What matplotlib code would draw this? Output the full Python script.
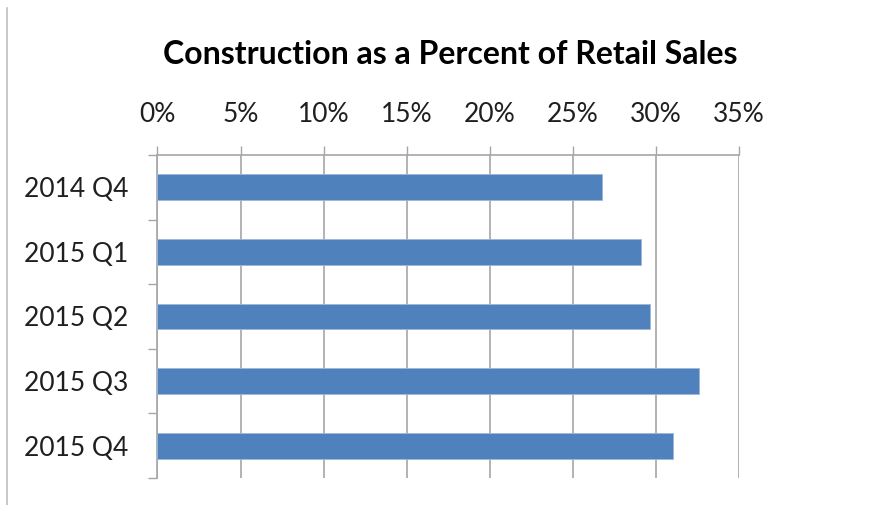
import numpy as np
import matplotlib
matplotlib.use("Agg")
import matplotlib.pyplot as plt
from matplotlib.lines import Line2D
from matplotlib.ticker import FuncFormatter, MultipleLocator

plt.rcParams['font.family'] = ['Lato', 'DejaVu Sans']

quarters = ['2014 Q4', '2015 Q1', '2015 Q2', '2015 Q3', '2015 Q4']
pct_of_retail = [26.75, 29.1, 29.65, 32.6, 31.0]

grid_col = '#A6A6A6'
bar_col = '#4F81BD'

fig = plt.figure(figsize=(8.79, 5.05), dpi=100)
ax = fig.add_axes([157.5 / 879, 1 - 478 / 505, (739 - 157.5) / 879, (478 - 155) / 505])

y = np.arange(len(quarters))
ax.barh(y, pct_of_retail, height=0.4, color=bar_col, edgecolor='#9DB7D9',
        linewidth=0.6, zorder=3)

# x axis on top, percent ticks every 5
ax.set_xlim(0, 35)
ax.xaxis.set_major_locator(MultipleLocator(5))
ax.xaxis.set_major_formatter(FuncFormatter(lambda v, p: f'{v:.0f}%'))
ax.xaxis.tick_top()
ax.tick_params(axis='x', which='major', direction='out', length=6.5, width=1,
               color=grid_col, pad=14, labelsize=19, labelcolor='#1F1F1F')
ax.grid(axis='x', color=grid_col, linewidth=1.2, zorder=0)

# categories top-to-bottom, tick marks between categories
ax.set_ylim(len(quarters) - 0.5, -0.5)
ax.set_yticks(y)
ax.set_yticklabels(quarters)
ax.set_yticks(np.arange(-0.5, len(quarters)), minor=True)
ax.tick_params(axis='y', which='major', length=0, pad=21, labelsize=19,
               labelcolor='#1F1F1F')
ax.tick_params(axis='y', which='minor', direction='out', length=6.5, width=1,
               color=grid_col)

for side in ('right', 'bottom'):
    ax.spines[side].set_visible(False)
for side in ('top', 'left'):
    ax.spines[side].set_color(grid_col)
    ax.spines[side].set_linewidth(1.2)

fig.text(450 / 879, 1 - 55 / 505, 'Construction as a Percent of Retail Sales',
         ha='center', va='center', fontsize=23, fontweight='bold', color='black')

# chart area border on the left
fig.add_artist(Line2D([7.5 / 879, 7.5 / 879], [0, 1 - 8 / 505],
                      color='#BFBFBF', linewidth=1.2))

fig.savefig('out.png', dpi=100)
